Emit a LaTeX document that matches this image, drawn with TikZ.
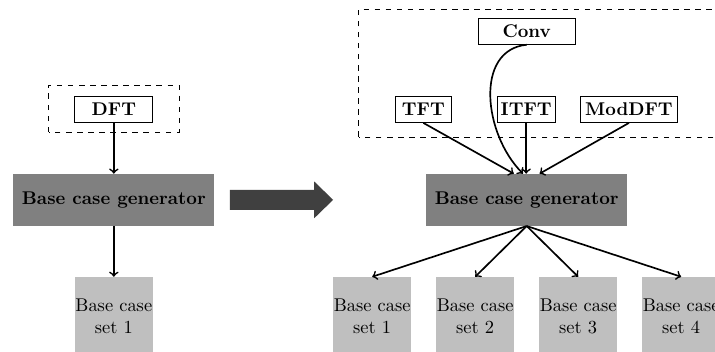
\documentclass[tikz,border=0pt]{standalone}
\tikzset{every picture/.style={line width=0.4pt}}
\tikzset{
  algo/.style={draw, fill=white, font=\bfseries, minimum height=14pt,
                inner sep=2pt},
  gen/.style={fill=gray, font=\bfseries, minimum width=109pt,
                minimum height=28pt},
  caseset/.style={fill=lightgray, align=center, minimum size=42.5pt,
                inner sep=0pt},
  dashbox/.style={draw, dashed},
  link/.style={->, line width=0.9pt},
}
\def\dx{1.963} % distance between the base case sets
\def\yset{0.68}

\begin{document}
\begin{tikzpicture}
  \useasboundingbox (0,0) rectangle (13.63,6.71);
  \clip (0,0) rectangle (13.63,6.71);
  % left: a single transform
  \draw[dashbox] (0.93,4.19) rectangle (3.41,5.09);
  \node[algo, minimum width=42.3pt] (dft) at (2.17,4.63) {DFT};
  \node[gen] (genL) at (2.17,2.90) {Base case generator};
  \node[caseset] (setL) at (2.17,\yset) {Base case\\set 1};
  \draw[link] (dft) -- (genL);
  \draw[link] (genL) -- (setL);
  % big arrow in the middle
  \fill[black!75] (4.38,2.71) -- (5.99,2.71) -- (5.99,2.55) -- (6.35,2.90)
    -- (5.99,3.25) -- (5.99,3.09) -- (4.38,3.09) -- cycle;
  % right: several transforms
  \draw[dashbox] (6.84,4.10) rectangle (14,6.54);
  \node[algo, minimum width=52.6pt] (conv) at (10.04,6.11) {Conv};
  \node[algo, minimum width=30.7pt] (tft) at (8.07,4.62) {TFT};
  \node[algo, minimum width=30.7pt] (itft) at (10.03,4.62) {ITFT};
  \node[algo, minimum width=53pt] (moddft) at (11.99,4.62) {ModDFT};
  \node[gen] (genR) at (10.04,2.90) {Base case generator};
  \draw[link] (tft.south) -- ([xshift=-7pt]genR.north);
  \draw[link] (conv.south) .. controls +(-1.0,-0.1) and +(-0.75,0.75) .. ([xshift=-2pt]genR.north);
  \draw[link] (itft) -- (itft |- genR.north);
  \draw[link] (moddft.south) -- ([xshift=7pt]genR.north);
  % base case sets | centred under the generator
  \foreach \k in {1,...,4} {
      \node[caseset] (set\k) at (10.04+\k*\dx-2.5*\dx,\yset) {Base case\\set \k};
      \draw[link] (genR.south) -- (set\k.north);
  };
\end{tikzpicture}
\end{document}
